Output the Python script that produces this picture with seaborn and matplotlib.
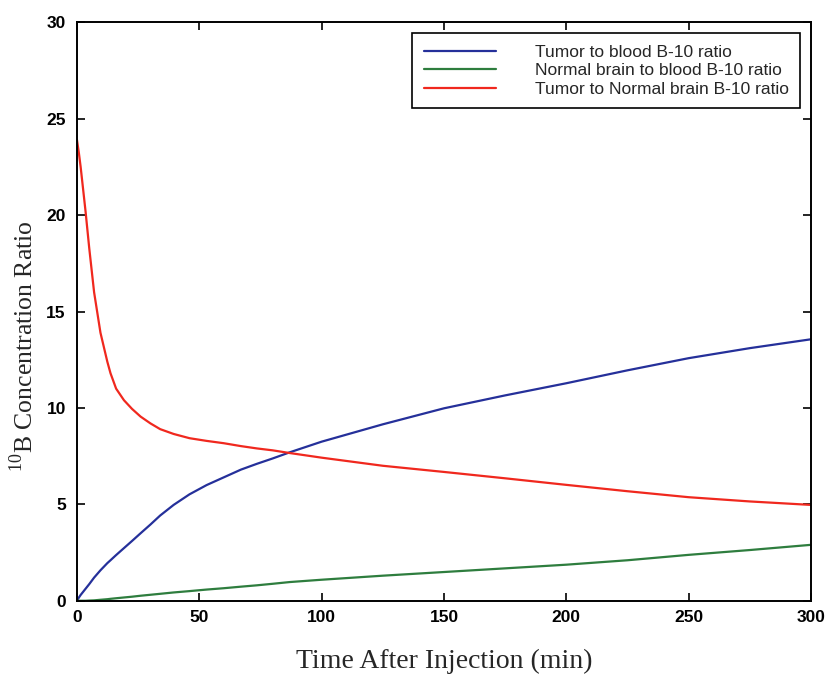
import numpy as np
import pandas as pd
import matplotlib
matplotlib.use("Agg")
import matplotlib.pyplot as plt
import seaborn as sns

# Time after injection (min) and the three boron-10 concentration ratios
time_min = [0, 0.8, 1.5, 3.5, 5, 7, 9.6, 12.4, 13.7, 16, 19.2, 22.5, 26, 30,
            34, 39.5, 46, 53, 60, 67, 73.5, 80, 87, 100, 125, 150, 175, 200,
            225, 250, 275, 300]

tumor_blood = [0.0, 0.17, 0.3, 0.62, 0.86, 1.2, 1.58, 1.95, 2.1, 2.37, 2.73,
               3.1, 3.5, 3.95, 4.42, 4.97, 5.52, 6.0, 6.4, 6.8, 7.1, 7.38,
               7.7, 8.25, 9.15, 9.98, 10.65, 11.28, 11.95, 12.58, 13.1, 13.56]

brain_blood = [0.0, 0.0, 0.0, 0.0, 0.01, 0.02, 0.05, 0.08, 0.1, 0.13, 0.17,
               0.21, 0.26, 0.31, 0.36, 0.43, 0.5, 0.58, 0.65, 0.73, 0.8, 0.88,
               0.97, 1.09, 1.3, 1.49, 1.68, 1.87, 2.1, 2.38, 2.63, 2.9]

tumor_brain = [23.9, 23.2, 22.5, 20.2, 18.3, 16.0, 13.9, 12.4, 11.8, 11.0,
               10.4, 9.95, 9.55, 9.2, 8.9, 8.65, 8.43, 8.29, 8.17, 8.02, 7.9,
               7.8, 7.66, 7.42, 7.0, 6.68, 6.35, 6.01, 5.68, 5.37, 5.15, 4.97]

series_names = ["Tumor to blood B-10 ratio",
                "Normal brain to blood B-10 ratio",
                "Tumor to Normal brain B-10 ratio"]
series_colors = ["#25309a", "#2e7d3e", "#f0281e"]

x_ticks = [0, 50, 100, 150, 200, 250, 300]
y_ticks = [0, 5, 10, 15, 20, 25, 30]

df = pd.concat([
    pd.DataFrame({"time": time_min, "ratio": vals, "series": name})
    for name, vals in zip(series_names, [tumor_blood, brain_blood, tumor_brain])
], ignore_index=True)

sns.set_theme(style="white")
plt.rcParams["font.family"] = ["Liberation Sans", "DejaVu Sans"]
plt.rcParams["mathtext.fontset"] = "custom"
plt.rcParams["mathtext.rm"] = "Liberation Serif"

fig = plt.figure(figsize=(8.25, 6.75), dpi=100)
ax = fig.add_axes([0.0933, 0.110, 0.8897, 0.857])

sns.lineplot(data=df, x="time", y="ratio", hue="series", hue_order=series_names,
             palette=dict(zip(series_names, series_colors)), linewidth=1.6,
             ax=ax, estimator=None, sort=True)

ax.set_xlim(0, 300)
ax.set_ylim(0, 30)
ax.set_xticks(x_ticks)
ax.set_yticks(y_ticks)
tick_font = dict(family=["Liberation Sans Narrow", "Liberation Sans", "DejaVu Sans"],
                 weight="bold", size=12.5)
ax.set_xticklabels([str(t) for t in x_ticks], fontdict=tick_font)
ax.set_yticklabels([str(t) for t in y_ticks], fontdict=tick_font)
ax.tick_params(direction="in", length=6, width=1.2, top=True, right=True,
               bottom=True, left=True, colors="black")
ax.tick_params(axis="x", pad=7)
ax.tick_params(axis="y", pad=8)

for sp in ax.spines.values():
    sp.set_color("black")
    sp.set_linewidth(1.4)

ax.set_xlabel("Time After Injection (min)",
              fontdict=dict(family=["Liberation Serif", "DejaVu Serif"], size=20),
              labelpad=17)
ax.set_ylabel(r"$^{10}$B Concentration Ratio",
              fontdict=dict(family=["Liberation Serif", "DejaVu Serif"], size=18.5))
ax.yaxis.set_label_coords(-0.053, 0.44)

leg = ax.legend(loc="upper right", bbox_to_anchor=(0.985, 0.981), frameon=True,
                fancybox=False, edgecolor="black", handlelength=4.2,
                handletextpad=2.2, borderpad=0.65, labelspacing=0.2,
                borderaxespad=0.0,
                prop={"family": ["Liberation Sans Narrow", "Liberation Sans", "DejaVu Sans"],
                      "size": 12.5})
leg.get_frame().set_linewidth(1.2)
leg.get_frame().set_alpha(1)

fig.savefig("out.png", dpi=100, facecolor="white")
